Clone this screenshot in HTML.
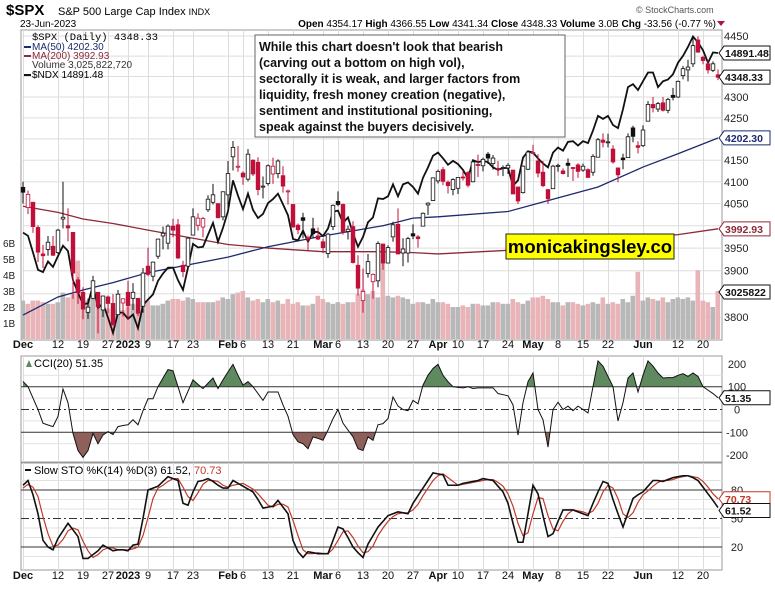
<!DOCTYPE html>
<html><head><meta charset="utf-8">
<style>
html,body{margin:0;padding:0;background:#fff;}
svg{display:block;font-family:"Liberation Sans",sans-serif;}
</style></head>
<body>
<svg id="chart" width="775" height="589" viewBox="0 0 775 589" xmlns="http://www.w3.org/2000/svg">
<rect x="0" y="0" width="775" height="589" fill="#fff"/>
<text x="6" y="15" font-size="15" font-weight="bold">$SPX</text>
<text x="58" y="15" font-size="11">S&amp;P 500 Large Cap Index <tspan font-size="9">INDX</tspan></text>
<text x="20" y="27" font-size="10">23-Jun-2023</text>
<text x="636" y="13" font-size="9" fill="#555">© StockCharts.com</text>
<text x="716" y="27" font-size="10" text-anchor="end"><tspan font-weight="bold">Open</tspan> 4354.17 <tspan font-weight="bold">High</tspan> 4366.55 <tspan font-weight="bold">Low</tspan> 4341.34 <tspan font-weight="bold">Close</tspan> 4348.33 <tspan font-weight="bold">Volume</tspan> 3.0B <tspan font-weight="bold">Chg</tspan> -33.56 (-0.77 %)</text>
<polygon points="717,21 725,21 721,26" fill="#b0143c"/>
<g id="main"></g>
</svg>
<script>
// ---------- DATA ----------
const openP=[4087,4041,4053,3996,3937,3947,3954,3940,4015,4000,3985,3880,3853,3810,3840,3853,3815,3843,3829,3805,3830,
3853,3840,3840,3823,3910,3888,3932,3977,3961,3999,4002,3912,3910,3979,4001,3997,4036,4053,4050,4020,
4070,4158,4136,4120,4106,4150,4145,4088,4096,4118,4119,4114,4077,4048,4001,4018,3973,3993,3977,
3964,3938,3998,4055,4048,3987,3998,3912,3835,3894,3876,3878,3959,3917,3975,4003,3939,3939,3982,3975,3999,4047,4057,
4102,4128,4099,4082,4085,4111,4121,4100,4140,4137,4164,4142,4131,4133,4132,4127,4088,4075,4129,
4166,4148,4122,4082,4084,4137,4125,4143,4133,4139,4127,4128,4122,4157,4197,4192,4176,4132,4155,4156,4226,4184,
4184,4242,4282,4271,4286,4268,4304,4300,4352,4366,4381,4440,4397,4381,4365,4354];
const highP=[4100,4080,4053,4001,3957,3977,3977,3993,4100,4039,3985,3886,3864,3839,3889,3853,3846,3846,3849,3858,3840,
3878,3873,3840,3906,3951,3920,3971,3998,4003,4016,4015,3922,3974,4039,4028,4020,4069,4095,4050,4078,
4148,4195,4183,4124,4176,4152,4157,4112,4140,4156,4152,4136,4082,4048,4005,4029,3978,4018,3996,
3971,3984,4048,4078,4050,4000,4010,3934,3905,3937,3894,3965,3959,3956,4009,4039,3972,3975,4003,3979,4030,4053,4110,
4128,4134,4103,4108,4110,4124,4125,4151,4163,4156,4169,4162,4148,4138,4143,4127,4088,4138,4170,
4186,4164,4148,4083,4139,4142,4131,4154,4133,4143,4142,4131,4164,4202,4213,4212,4185,4132,4165,4213,4231,4194,
4232,4290,4300,4288,4300,4298,4322,4340,4376,4391,4448,4449,4401,4389,4387,4367];
const lowP=[4050,4026,3984,3919,3906,3933,3933,3937,3994,3965,3839,3828,3795,3796,3838,3765,3800,3808,3783,3805,3801,
3794,3815,3802,3809,3888,3877,3926,3947,3947,3974,3926,3886,3902,3978,3989,3974,4031,4048,4017,4012,
4037,4126,4123,4093,4101,4113,4069,4062,4091,4095,4108,4075,4048,3996,3981,3972,3944,3973,3968,
3939,3928,3990,4044,3980,3969,3916,3846,3809,3885,3839,3864,3902,3916,3964,3936,3910,3918,3970,3951,3999,4024,4056,
4096,4092,4073,4069,4072,4103,4087,4099,4111,4124,4141,4128,4114,4113,4118,4072,4049,4073,4127,
4164,4110,4088,4049,4084,4123,4117,4111,4102,4109,4123,4109,4114,4157,4180,4180,4142,4099,4129,4155,4192,4166,
4181,4242,4263,4264,4265,4261,4292,4298,4343,4338,4373,4408,4380,4357,4361,4341];
const closeP=[4076,4071,3998,3941,3933,3963,3934,3990,4019,3995,3895,3852,3817,3821,3878,3822,3845,3829,3783,3849,3839,
3824,3853,3808,3895,3892,3919,3970,3983,3999,3990,3928,3898,3972,4020,4017,4016,4060,4070,4018,4077,
4119,4180,4136,4111,4164,4118,4082,4090,4137,4136,4148,4090,4079,3997,3991,4012,3970,3982,3970,
3951,3981,4046,4048,3986,3992,3918,3862,3855,3920,3892,3960,3917,3951,4002,3937,3948,3971,3977,3971,4028,4051,4109,
4124,4101,4091,4105,4110,4109,4092,4146,4138,4152,4155,4155,4130,4133,4138,4072,4056,4136,4169,
4168,4120,4091,4061,4136,4138,4119,4138,4131,4124,4136,4110,4159,4198,4192,4193,4146,4116,4151,4205,4206,4180,
4221,4282,4274,4284,4268,4294,4299,4338,4369,4373,4426,4410,4389,4366,4381,4348];
const volumeB=[2.4,2.2,2.4,2.4,2.3,2.2,2.2,2.3,2.9,2.6,2.8,4.9,2.6,2.4,2.5,2.5,2.0,1.9,1.8,1.9,1.8,
2.0,2.2,2.1,2.4,2.4,2.1,2.1,2.2,2.4,2.5,2.5,2.4,2.6,2.5,2.3,2.3,2.3,2.3,2.4,2.6,
2.5,2.8,2.9,3.0,2.6,2.4,2.5,2.3,2.5,2.3,2.4,2.2,2.5,2.2,2.3,2.1,2.1,2.2,2.7,
2.5,2.3,2.2,2.3,2.2,2.3,2.3,2.8,3.1,2.8,3.0,2.6,4.8,2.7,2.6,2.7,2.6,2.5,2.2,2.3,2.3,2.2,2.5,
2.3,2.3,2.2,2.0,2.0,2.1,2.0,2.2,2.2,2.1,2.1,2.3,2.3,2.2,2.2,2.5,2.3,2.2,2.4,
2.6,2.6,2.7,2.5,2.3,2.3,2.1,2.3,2.3,2.2,2.1,2.2,2.3,2.2,2.6,2.2,2.3,2.2,2.5,2.3,2.7,4.2,
2.4,2.6,2.5,2.4,2.6,2.3,2.5,2.6,2.5,2.6,2.4,4.3,2.4,2.3,2.0,3.0];
const ndx=[12030,11985,11750,11510,11480,11625,11550,11700,11845,11770,11370,11200,11050,11060,11300,11000,11060,10875,10680,10940,10940,
10860,10915,10740,11040,11110,11180,11360,11460,11540,11540,11370,11240,11540,11870,11820,11830,12000,12170,11900,12100,
12340,12800,12570,12370,12600,12360,12240,12300,12460,12520,12600,12440,12280,11940,11920,12060,11900,12040,12040,
11980,12090,12330,12350,12170,12250,12020,11830,11970,12180,12250,12530,12520,12560,12740,12560,12740,12770,12700,12600,12840,13000,13180,
13230,13140,13040,13100,13050,12960,12830,13110,13080,13100,13080,13000,12960,12990,12990,12720,12800,13150,13250,
13230,13140,13060,13000,13230,13310,13260,13400,13410,13340,13410,13380,13580,13820,13770,13820,13670,13620,13930,14300,14350,14250,
14400,14550,14550,14300,14400,14430,14520,14720,14840,15000,15186,15080,14940,14720,14900,14891];
const maIdx=[0,7,12,18,25,41,49,60,72,78,83,97,106,115,124,131,139];
const ma50=[3804,3843,3858,3874,3896,3930,3953,3977,4000,4017,4020,4032,4060,4088,4134,4165,4202];
const ma200=[4044,4030,4015,4005,3990,3958,3950,3942,3942,3940,3937,3945,3955,3962,3972,3980,3993];
const cci=[123,100,50,0,-60,-68,-75,-30,90,30,-105,-180,-210,-180,-105,-150,-112,-97,-110,-75,-70,-67,-45,-67,-5,47,47,100,138,175,170,100,30,80,130,110,92,115,138,92,130,165,198,150,107,122,100,70,40,77,77,77,20,-30,-110,-142,-150,-172,-120,-127,-135,-90,-40,0,-60,-90,-120,-172,-180,-120,-135,-67,-62,-40,55,15,0,-5,40,25,107,150,180,198,150,122,100,97,95,100,92,95,95,95,95,70,65,60,20,-112,30,122,160,0,-45,-165,0,32,0,15,-5,15,0,-15,100,213,190,145,100,-50,30,138,160,77,150,213,190,160,138,140,140,150,157,145,160,145,100,85,70,51.35];
const stoK=[85,90,75,55,27,20,17,29,37,45,38,31,8,8,12,16,22,19,16,17,17,16,22,23,50,80,82,84,89,94,92,90,66,64,78,89,90,92,89,85,82,82,90,87,84,81,78,70,61,62,63,69,62,55,27,15,9,15,14,13,13,13,27,41,39,30,20,14,9,23,32,41,47,53,55,57,56,55,66,74,82,90,98,97,96,85,85,85,87,88,89,90,92,91,90,84,78,66,45,25,25,55,85,76,53,31,34,47,59,59,59,57,55,53,66,78,89,87,70,55,41,56,71,75,78,84,90,90,89,91,93,94,95,95,93,90,83,76,69,61.52];
const stoD=[82,86,83,73,52,34,21,22,28,37,40,38,26,16,9,12,17,19,19,17,17,17,18,20,32,51,71,82,85,89,92,92,83,73,69,77,86,90,90,89,85,83,85,86,87,84,81,76,70,64,62,65,65,62,48,32,17,13,13,14,13,13,18,27,36,37,30,21,14,15,21,32,40,47,52,55,56,56,59,65,74,82,90,95,97,93,89,85,86,87,88,89,90,91,91,88,84,76,63,45,32,35,55,72,71,53,39,37,47,55,59,58,57,55,58,66,78,85,82,71,55,51,56,67,75,79,84,88,90,90,91,93,94,95,94,93,89,83,76,70.73];
const dateTickIdx=[0,7,12,17,21,25,30,34,41,44,49,54,60,63,68,73,78,83,87,92,97,102,107,112,117,124,131,136];
const dateTickLbl=["Dec","12","19","27","2023","9","17","23","Feb","6","13","21","Mar","6","13","20","27","Apr","10","17","24","May","8","15","22","Jun","12","20"];
const dateTickBold=[1,0,0,0,1,0,0,0,1,0,0,0,1,0,0,0,0,1,0,0,0,1,0,0,0,1,0,0];
const priceTicks=[4450,4400,4350,4300,4250,4200,4150,4100,4050,4000,3950,3900,3850,3800];
const priceLabels=[4450,4300,4250,4150,4100,4050,3950,3900,3800];
const volTicks=[1,2,3,4,5,6];
const cciTicks=[200,100,0,-100,-200];
const stoTicks=[80,50,20];

// ---------- SCALES ----------
const PL=21, PR=722;
const xi=i=>23+i*5.0;
const yP=p=>36+Math.log(4450/p)/0.000562;
const yN=v=>53+Math.log(14891/v)*842;
const yV=v=>339-v*16;
const yC=v=>409.5-v*0.228;
const yS=v=>490+(80-v)*0.95;

const NS="http://www.w3.org/2000/svg";
const root=document.getElementById('main');
function mk(tag,attrs,parent){const e=document.createElementNS(NS,tag);for(const k in attrs)e.setAttribute(k,attrs[k]);(parent||root).appendChild(e);return e;}
let el;

const panels=[["price-panel",30,340],["cci-panel",356,462],["sto-panel",463,570]];
panels.forEach(p=>{
  el=mk('rect',{x:PL,y:p[1],width:PR-PL,height:p[2]-p[1],fill:'#fff',stroke:'#999','stroke-width':1});
  
  
});
panels.forEach(p=>{dateTickIdx.forEach(i=>{
  el=mk('line',{x1:xi(i)+0.5,x2:xi(i)+0.5,y1:p[1],y2:p[2],stroke:'#ddd','stroke-width':1});
  
  
});});
priceTicks.forEach(t=>{
  el=mk('line',{x1:PL,x2:PR,y1:yP(t),y2:yP(t),stroke:'#ddd'});
  
  
});
priceLabels.forEach(t=>{
  el=mk('text',{x:724,y:yP(t)+4,'font-size':11,fill:'#222'});el.textContent=t;
  
  
});
volTicks.forEach(t=>{
  el=mk('text',{x:3,y:yV(t)+4,'font-size':10,fill:'#222'});el.textContent=t+'B';
  
  
});
volumeB.forEach((v,i)=>{
  const down=i>0&&closeP[i]<closeP[i-1];
  el=mk('rect',{x:xi(i)-2.5,y:yV(v),width:4.6,height:339-yV(v),fill:down?'#e8b4b8':'#b8b8b8'});
  
  
});
function maPath(arr,color,name){
  el=mk('polyline',{points:arr.map((v,k)=>xi(maIdx[k])+','+yP(v)).join(' '),fill:'none',stroke:color,'stroke-width':1.3});
  
  
}
maPath(ma200,'#8b2a3a','ma200-line');
maPath(ma50,'#1c2a6e','ma50-line');
el=mk('polyline',{points:ndx.map((v,i)=>xi(i)+','+yN(v)).join(' '),fill:'none',stroke:'#111','stroke-width':1.8});


closeP.forEach((c,i)=>{
  const o=openP[i], red=i>0&&c<closeP[i-1];
  const col=red?'#c0103a':'#111';
  el=mk('line',{x1:xi(i),x2:xi(i),y1:yP(highP[i]),y2:yP(lowP[i]),stroke:col,'stroke-width':1});
  
  
  const top=Math.min(yP(o),yP(c)), h=Math.max(1,Math.abs(yP(o)-yP(c)));
  el=mk('rect',{x:xi(i)-1.8,y:top,width:3.6,height:h,fill:c>=o?'#fff':col,stroke:col,'stroke-width':0.8});
  
  
});
[348,579].forEach(yy=>{dateTickIdx.forEach((i,k)=>{
  el=mk('text',{x:xi(i),y:yy,'font-size':11,'text-anchor':'middle','font-weight':dateTickBold[k]?'bold':'normal',fill:'#111'});
  el.textContent=dateTickLbl[k];
  
  
});});

[-150,-50,50,150].forEach(t=>{
  el=mk('line',{x1:PL,x2:PR,y1:yC(t),y2:yC(t),stroke:'#e2e2e2'});
  
  
});
const defs=mk('defs',{});
const cu=mk('clipPath',{id:'cUp'},defs);
mk('rect',{x:PL,y:356,width:PR-PL,height:yC(100)-356},cu);
const cd=mk('clipPath',{id:'cDn'},defs);
mk('rect',{x:PL,y:yC(-100),width:PR-PL,height:462-yC(-100)},cd);
const cciPts=cci.map((v,i)=>xi(i)+','+yC(v)).join(' ');
el=mk('polygon',{points:xi(0)+','+yC(100)+' '+cciPts+' '+xi(139)+','+yC(100),fill:'#5f8a5f','clip-path':'url(#cUp)'});


el=mk('polygon',{points:xi(0)+','+yC(-100)+' '+cciPts+' '+xi(139)+','+yC(-100),fill:'#8f5f5a','clip-path':'url(#cDn)'});


[100,-100].forEach(t=>{
  el=mk('line',{x1:PL,x2:PR,y1:yC(t),y2:yC(t),stroke:'#333'});
  
  
});
el=mk('line',{x1:PL,x2:PR,y1:yC(0),y2:yC(0),stroke:'#333','stroke-dasharray':'8,3,2,3'});


el=mk('polyline',{points:cciPts,fill:'none',stroke:'#111','stroke-width':1});


cciTicks.forEach(t=>{
  el=mk('text',{x:737,y:yC(t)+4,'font-size':11,'text-anchor':'middle',fill:'#222'});el.textContent=t;
  
  
});

[10,30,40,60,70,90].forEach(t=>{
  el=mk('line',{x1:PL,x2:PR,y1:yS(t),y2:yS(t),stroke:'#e2e2e2'});
  
  
});
[80,20].forEach(t=>{
  el=mk('line',{x1:PL,x2:PR,y1:yS(t),y2:yS(t),stroke:'#333'});
  
  
});
el=mk('line',{x1:PL,x2:PR,y1:yS(50),y2:yS(50),stroke:'#333','stroke-dasharray':'8,3,2,3'});


el=mk('polyline',{points:stoD.map((v,i)=>xi(i)+','+yS(v)).join(' '),fill:'none',stroke:'#c0392b','stroke-width':1.2});


el=mk('polyline',{points:stoK.map((v,i)=>xi(i)+','+yS(v)).join(' '),fill:'none',stroke:'#111','stroke-width':1.6});


stoTicks.forEach(t=>{
  el=mk('text',{x:737,y:yS(t)+4,'font-size':11,'text-anchor':'middle',fill:'#222'});el.textContent=t;
  
  
});

function tag(y,txt,name,col){
  const g=mk('g',{});
  
  
  mk('polygon',{points:`719,${y} 724,${y-7} 770,${y-7} 770,${y+7} 724,${y+7}`,fill:'#fff',stroke:col||'#111','stroke-width':1},g);
  const t=mk('text',{x:725,y:y+4,'font-size':10.5,'font-weight':'bold',fill:col||'#111'},g);t.textContent=txt;
}
tag(53,'14891.48','ndx-value-tag');
tag(yP(4348.33),'4348.33','close-value-tag');
tag(yP(4202.3),'4202.30','ma50-value-tag','#1c2a6e');
tag(yP(3992.93),'3992.93','ma200-value-tag','#8b2a3a');
tag(292,'3025822','volume-value-tag');
tag(yC(51.35),'51.35','cci-value-tag');
tag(yS(70.73),'70.73','sto-d-value-tag','#c0392b');
tag(yS(61.52)+3,'61.52','sto-k-value-tag');
</script>
<svg style="position:absolute;left:0;top:0" width="775" height="589" font-family="Liberation Sans, sans-serif">
<g font-size="10">
<text x="32" y="40" font-family="Liberation Mono, monospace" font-size="10.5">$SPX (Daily) 4348.33</text>
<line x1="24" y1="47" x2="31" y2="47" stroke="#1c2a6e" stroke-width="2"/><text x="32" y="50" fill="#1c2a6e">MA(50) 4202.30</text>
<line x1="24" y1="56" x2="31" y2="56" stroke="#8b2a3a" stroke-width="2"/><text x="32" y="59" fill="#8b2a3a">MA(200) 3992.93</text>
<text x="32" y="68" fill="#333">Volume 3,025,822,720</text>
<line x1="24" y1="75" x2="31" y2="75" stroke="#111" stroke-width="2"/><text x="32" y="78">$NDX 14891.48</text>
</g>
<g>
<rect x="255" y="35" width="310" height="102" fill="#fff" stroke="#666"/>
<text font-size="12.5" font-weight="bold" fill="#111">
<tspan x="259" y="51">While this chart doesn't look that bearish</tspan>
<tspan x="259" y="67">(carving out a bottom on high vol),</tspan>
<tspan x="259" y="83">sectorally it is weak, and larger factors from</tspan>
<tspan x="259" y="99">liquidity, fresh money creation (negative),</tspan>
<tspan x="259" y="115">sentiment and institutional positioning,</tspan>
<tspan x="259" y="131">speak against the buyers decisively.</tspan>
</text>
</g>
<g>
<rect x="506" y="234" width="168" height="25" fill="#ffff00" stroke="#222"/>
<text x="590" y="253" font-size="18.5" font-weight="bold" text-anchor="middle">monicakingsley.co</text>
</g>
<text x="34" y="367" font-size="11">CCI(20) 51.35</text>
<path d="M26,367 L29,360 L32,367 Z" fill="#5f8a5f"/>
<text x="34" y="474" font-size="11">Slow STO %K(14) %D(3) 61.52, <tspan fill="#c0392b">70.73</tspan></text>
<line x1="25" y1="470" x2="31" y2="470" stroke="#111" stroke-width="2"/>
</svg>
</body></html>
